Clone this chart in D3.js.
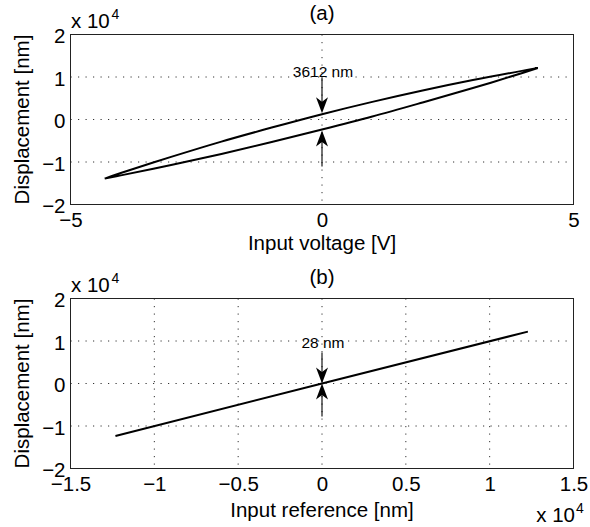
<!DOCTYPE html>
<meta charset="utf-8">
<script src="https://d3js.org/d3.v7.min.js"></script>
<style>
    html, body { margin: 0; background: white; }
    text { font-family: "Liberation Sans", Arial, Helvetica, sans-serif; fill: black; }
    .grid line { stroke: #333; stroke-width: 1; stroke-dasharray: 1.2 6.3; }
    .box { fill: none; stroke: #222; stroke-width: 1; }
    .curve { fill: none; stroke: black; stroke-width: 2; }
</style>
<body></body>
<script>
    // ---- data ----
    // (a) hysteresis loop: input voltage [V] vs displacement [nm]
    const voltage      = [-4.32, -4, -3, -2, -1, 0, 1, 2, 3, 4, 4.29];
    const dispUpper    = [-13900, -12600, -8800, -5200, -1900, 1250, 4150, 6830, 9280, 11500, 12100];
    const dispLower    = [-13900, -13150, -10700, -8100, -5300, -2360, 700, 4000, 7400, 11000, 12100];

    // (b) compensated: input reference [nm] vs displacement [nm]
    const reference    = [-12320, 0, 12280];
    const dispComp     = [-12350, 14, 12200];

    // annotations: [x, upper, lower]
    const gapA = [0, 1250, -2360];
    const gapB = [0, 14, -14];
    const gapLabels = ["3612 nm", "28 nm"];

    // ticks
    const xTicksA = [-5, 0, 5];
    const xTicksB = [-15000, -10000, -5000, 0, 5000, 10000, 15000];
    const yTicks  = [-20000, -10000, 0, 10000, 20000];
    const titles  = ["(a)", "(b)"];
    const xLabels = ["Input voltage [V]", "Input reference [nm]"];
    const yLabel  = "Displacement [nm]";

    // ---- layout ----
    const W = 590, H = 527;
    const L = 70.5, R = 573.5;
    const FS = "20.5px";
    const panels = [
        { top: 34.5, bottom: 204.5, xDom: [-5, 5], xTicks: xTicksA, xScale10: false, labelY: 250 },
        { top: 298.5, bottom: 468.5, xDom: [-15000, 15000], xTicks: xTicksB, xScale10: true, labelY: 517 }
    ];

    const svg = d3.select("body").append("svg")
        .attr("width", W).attr("height", H);

    const fmt = v => d3.format("")(+v.toFixed(4)).replace("-", "\u2212");

    function drawArrow(g, x, yTip, dir, len) {
        // dir = 1: points down, dir = -1: points up
        g.append("line")
            .attr("x1", x).attr("x2", x)
            .attr("y1", yTip - dir * len).attr("y2", yTip - dir * 8)
            .attr("stroke", "black").attr("stroke-width", 1.1);
        const hl = 16, hw = 6;
        g.append("path")
            .attr("d", `M${x},${yTip} L${x - hw},${yTip - dir * hl} L${x},${yTip - dir * hl * 0.72} L${x + hw},${yTip - dir * hl} Z`)
            .attr("fill", "black");
    }

    panels.forEach((p, i) => {
        const x = d3.scaleLinear().domain(p.xDom).range([L, R]);
        const y = d3.scaleLinear().domain([-20000, 20000]).range([p.bottom, p.top]);
        const g = svg.append("g");

        // grid (interior ticks)
        const grid = g.append("g").attr("class", "grid");
        grid.selectAll(".gx").data(p.xTicks.slice(1, -1)).join("line")
            .attr("x1", d => x(d)).attr("x2", d => x(d))
            .attr("y1", p.top).attr("y2", p.bottom);
        grid.selectAll(".gy").data(yTicks.slice(1, -1)).join("line")
            .attr("x1", L).attr("x2", R)
            .attr("y1", d => y(d)).attr("y2", d => y(d));

        // axes
        const xf = p.xScale10 ? (d => fmt(d / 10000)) : fmt;
        const xa = g.append("g").attr("transform", `translate(0,${p.bottom})`)
            .call(d3.axisBottom(x).tickValues(p.xTicks).tickSize(0).tickPadding(8).tickFormat(xf));
        const ya = g.append("g").attr("transform", `translate(${L},0)`)
            .call(d3.axisLeft(y).tickValues(yTicks).tickSize(0).tickPadding(5).tickFormat(d => fmt(d / 10000)));
        [xa, ya].forEach(a => {
            a.select(".domain").remove();
            a.selectAll("text").style("font-size", FS)
                .style("font-family", "'Liberation Sans', Arial, sans-serif").attr("fill", "black");
        });
        ya.selectAll("text").attr("dy", "0.4em");

        // box
        g.append("rect").attr("class", "box")
            .attr("x", L).attr("y", p.top).attr("width", R - L).attr("height", p.bottom - p.top);

        // data
        const line = d3.line().x(d => x(d[0])).y(d => y(d[1]));
        if (i === 0) {
            const loop = voltage.map((v, k) => [v, dispLower[k]])
                .concat(voltage.map((v, k) => [v, dispUpper[k]]).reverse());
            g.append("path").attr("class", "curve")
                .attr("d", d3.line().x(d => x(d[0])).y(d => y(d[1])).curve(d3.curveCatmullRom)(loop));
        } else {
            g.append("path").attr("class", "curve")
                .attr("d", line(reference.map((r, k) => [r, dispComp[k]])));
        }

        // annotation
        const gap = i === 0 ? gapA : gapB;
        const ax = x(gap[0]);
        drawArrow(g, ax, y(gap[1]) - (i === 0 ? 1 : 0), 1, i === 0 ? 36 : 31);
        drawArrow(g, ax, y(gap[2]) + (i === 0 ? 1 : 0), -1, i === 0 ? 36 : 33);
        g.append("text")
            .attr("x", ax + 1).attr("y", i === 0 ? 77 : 348)
            .attr("text-anchor", "middle").style("font-size", "15.5px")
            .text(gapLabels[i]);

        // title
        g.append("text").attr("x", (L + R) / 2).attr("y", p.top - 15)
            .attr("text-anchor", "middle").style("font-size", FS).text(titles[i]);

        // x label
        g.append("text").attr("x", (L + R) / 2).attr("y", p.labelY)
            .attr("text-anchor", "middle").style("font-size", FS).text(xLabels[i]);

        // y label
        g.append("text")
            .attr("transform", `translate(29,${(p.top + p.bottom) / 2}) rotate(-90)`)
            .attr("text-anchor", "middle").style("font-size", FS).text(yLabel);

        // y multiplier
        g.append("text").attr("x", 71).attr("y", p.top - 7)
            .style("font-size", FS).text("x 10");
        g.append("text").attr("x", 111.5).attr("y", p.top - 16)
            .style("font-size", "14px").text("4");

        // x multiplier
        if (p.xScale10) {
            g.append("text").attr("x", 575).attr("y", 522)
                .attr("text-anchor", "end").style("font-size", FS).text("x 10");
            g.append("text").attr("x", 576).attr("y", 513)
                .style("font-size", "14px").text("4");
        }
    });
</script>
